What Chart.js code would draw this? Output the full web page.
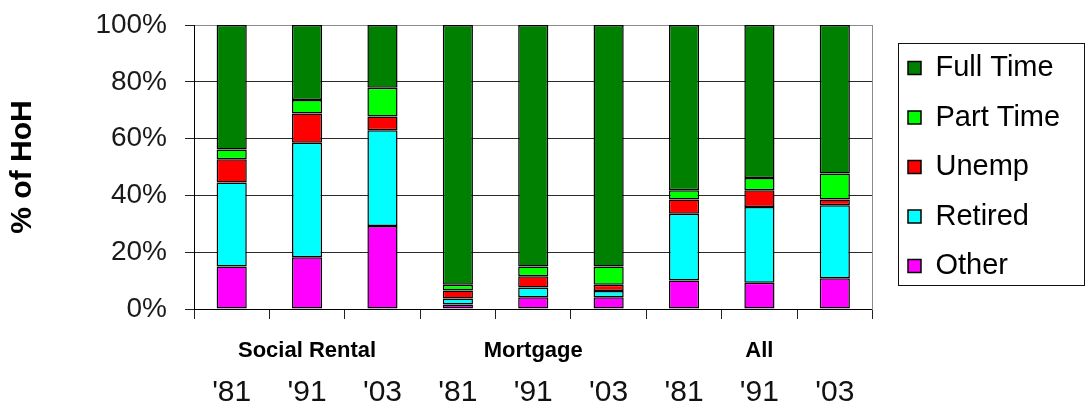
<!DOCTYPE html>
<html><head><meta charset="utf-8">
<script src="https://cdn.jsdelivr.net/npm/chart.js@4/dist/chart.umd.min.js"></script>
<style>html,body{margin:0;padding:0;background:#fff;}#wrap{width:1085px;height:407px;}</style>
</head><body><div id="wrap"><canvas id="c" width="1085" height="407"></canvas></div>
<script>
const categories = ["'81", "'91", "'03", "'81", "'91", "'03", "'81", "'91", "'03"];
const groupLabels = ["", "Social Rental", "", "", "Mortgage", "", "", "All", ""];
const other    = [15.0, 18.2, 29.2, 1.6, 4.1, 4.1, 10.0, 9.2, 10.8];
const retired  = [29.5, 40.3, 33.7, 2.1, 3.5, 2.2, 23.5, 26.7, 25.7];
const unemp    = [8.2, 10.3, 4.9, 2.8, 3.9, 2.2, 5.1, 5.9, 2.1];
const partTime = [3.5, 4.8, 10.1, 2.0, 3.5, 6.5, 3.2, 4.3, 9.1];
const fullTime = [43.8, 26.4, 22.1, 91.5, 85.0, 85.0, 58.2, 53.9, 52.3];
const yTicks = [0, 20, 40, 60, 80, 100];

const FONT = "'Liberation Sans', Arial, sans-serif";

function ds(label, data, color) {
  return { label, data, backgroundColor: color, borderColor: '#000', borderWidth: 1.5,
    borderSkipped: false, barPercentage: 0.4, categoryPercentage: 1.0 };
}

const legendBorder = {
  id: 'legendBorder',
  afterDraw(chart) {
    const lg = chart.legend;
    if (!lg || !lg.legendHitBoxes || !lg.legendHitBoxes.length) return;
    const hb = lg.legendHitBoxes;
    const first = hb[0], last = hb[hb.length - 1];
    const left = first.left - 10;
    const top = first.top + first.height / 2 - 25;
    const bottom = last.top + last.height / 2 + 19;
    const right = chart.width - 1.5;
    const ctx = chart.ctx;
    ctx.save();
    ctx.strokeStyle = '#111';
    ctx.lineWidth = 1;
    ctx.strokeRect(Math.round(left) + 0.5, Math.round(top) + 0.5, Math.round(right - left), Math.round(bottom - top));
    ctx.restore();
  }
};

new Chart(document.getElementById('c'), {
  type: 'bar',
  data: {
    labels: categories,
    datasets: [
      ds('Other', other, '#ff00ff'),
      ds('Retired', retired, '#00ffff'),
      ds('Unemp', unemp, '#ff0000'),
      ds('Part Time', partTime, '#00ff00'),
      ds('Full Time', fullTime, '#008000')
    ]
  },
  options: {
    responsive: false,
    animation: false,
    devicePixelRatio: 1,
    layout: { padding: { left: 0, right: 20, top: 25, bottom: 0 } },
    plugins: {
      tooltip: { enabled: false },
      legend: {
        position: 'right', fullSize: false, reverse: true, align: 'center',
        labels: { boxWidth: 13, boxHeight: 13, padding: 20.5, color: '#000',
          font: { family: FONT, size: 29 } }
      }
    },
    scales: {
      x: {
        type: 'category', stacked: true, offset: true, weight: 0,
        grid: { display: true, drawOnChartArea: false, drawTicks: true, tickLength: 10, color: '#222', offset: true },
        border: { display: true, color: '#000', width: 1 },
        ticks: { callback: (v, i) => groupLabels[i], autoSkip: false, maxRotation: 0, padding: 19, color: '#000',
          font: { family: FONT, size: 22, weight: 'bold' } },
        afterFit: s => { s.height = 55; }
      },
      x2: {
        type: 'category', labels: categories, position: 'bottom', offset: true, weight: 1,
        grid: { display: false, drawTicks: false }, border: { display: false },
        ticks: { autoSkip: false, maxRotation: 0, padding: 14, color: '#111',
          font: { family: FONT, size: 30, lineHeight: 1 } },
        afterFit: s => { s.height = 43; }
      },
      y: {
        stacked: true, min: 0, max: 100, position: 'left',
        afterBuildTicks: s => { s.ticks = yTicks.map(v => ({ value: v })); },
        grid: { color: c => (c.tick && c.tick.value === 100) ? '#8c8c8c' : '#2a2a2a', tickColor: '#222', tickLength: 9, lineWidth: 1 },
        border: { display: true, color: '#000', width: 1 },
        ticks: { callback: v => v + '%', padding: 18, color: '#1a1a1a', font: { family: FONT, size: 28 } },
        title: { display: true, text: '% of HoH', color: '#000', padding: { top: 5, bottom: 0 },
          font: { family: FONT, size: 30, weight: 'bold' } },
        afterFit: s => { s.width = 194; s.paddingTop = 17; s.paddingBottom = 17; }
      },
      y2: {
        position: 'right', display: true, min: 0, max: 100,
        grid: { display: false, drawTicks: false }, ticks: { display: false },
        border: { display: true, color: '#8c8c8c', width: 1 },
        afterFit: s => { s.width = 15; s.paddingTop = 0; s.paddingBottom = 0; }
      }
    }
  },
  plugins: [legendBorder]
});
</script></body></html>
